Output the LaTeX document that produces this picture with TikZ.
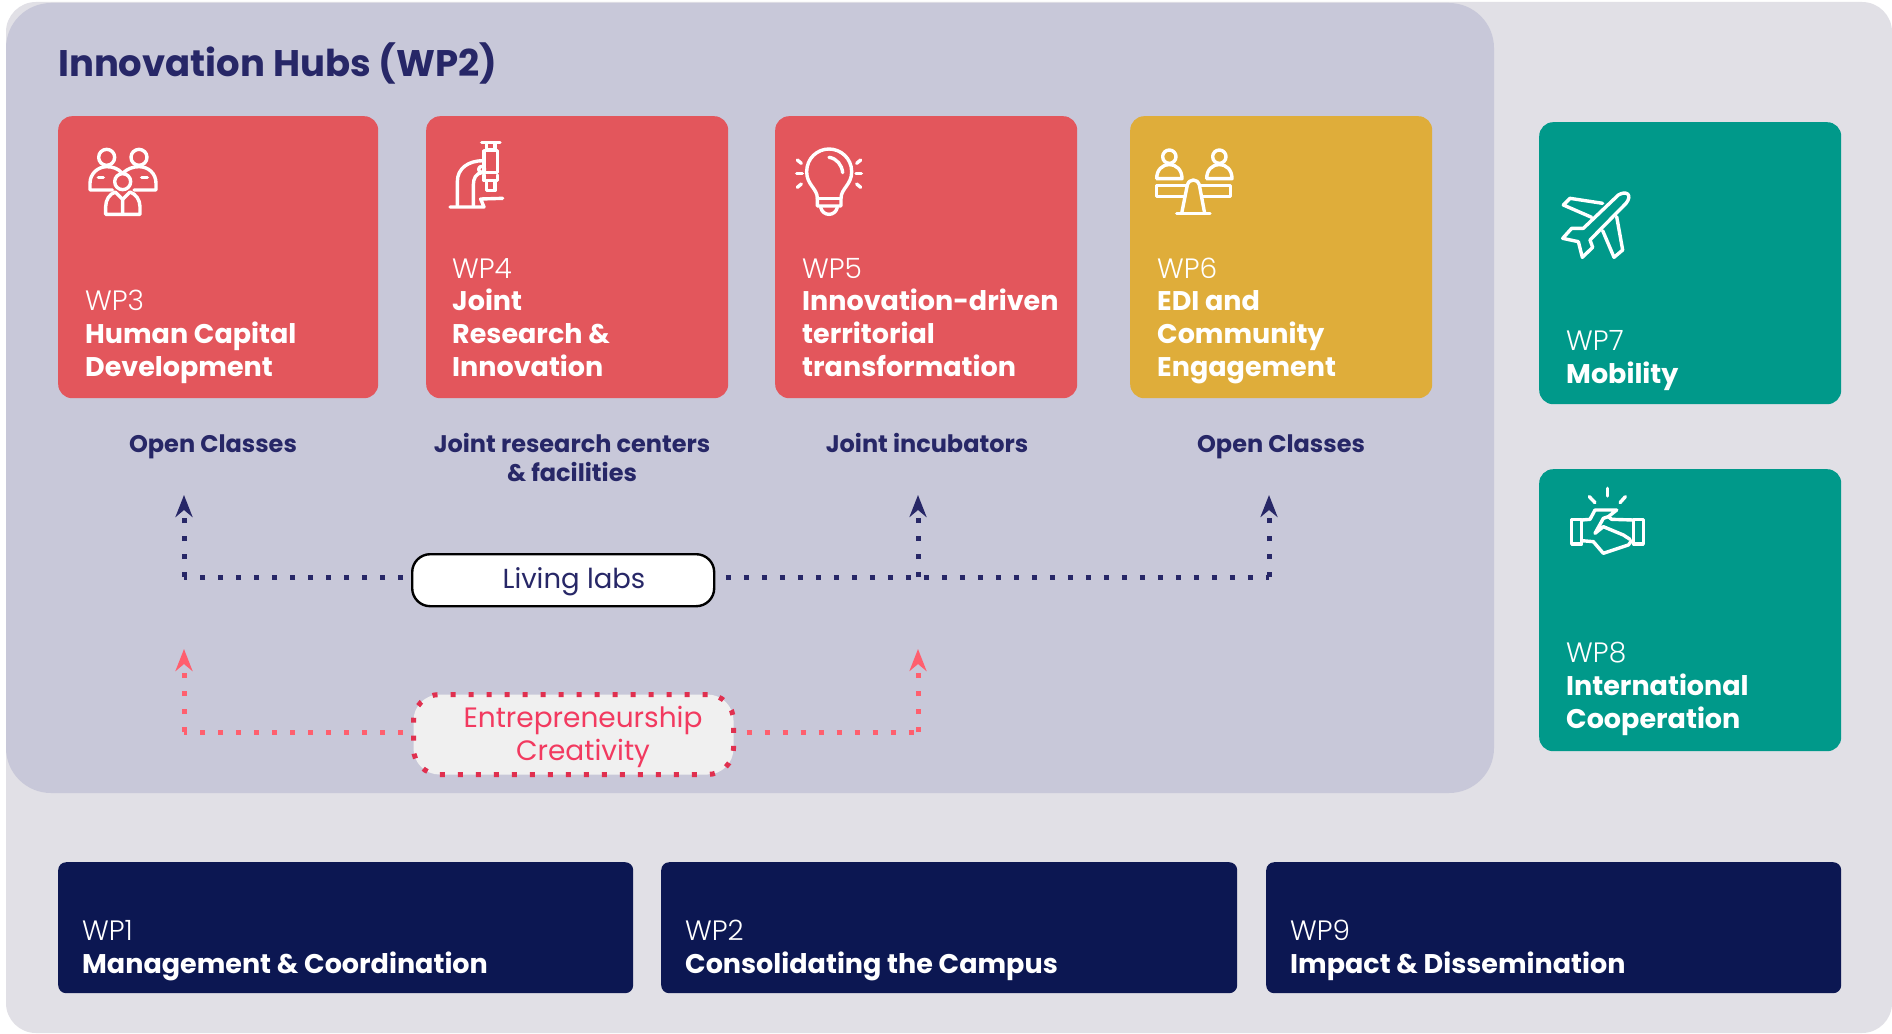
\documentclass[tikz,border=0pt]{standalone}
\usepackage{fontspec}
\setmainfont{Poppins}
\newfontfamily\lightf{Poppins Light}
\usetikzlibrary{arrows.meta}
\definecolor{bgout}{HTML}{E1E0E6}
\definecolor{bghub}{HTML}{C8C8D9}
\definecolor{redcard}{HTML}{E3565C}
\definecolor{goldcard}{HTML}{DFAD3A}
\definecolor{tealcard}{HTML}{00998A}
\definecolor{navycard}{HTML}{0C1752}
\definecolor{inkblue}{HTML}{272767}
\definecolor{lineblue}{HTML}{272767}
\definecolor{linered}{HTML}{FF5F6E}
\definecolor{boxred}{HTML}{E0304F}
\definecolor{textred}{HTML}{F23A60}
\newcommand{\wpl}[1]{{\lightf\fontsize{28}{32.6}\selectfont #1}}
\newcommand{\wpb}[1]{\textbf{#1}}
\tikzset{
  x=1pt,y=-1pt,
  card/.style={anchor=north west,rounded corners=14pt,inner sep=0pt,minimum width=#1},
  cardh/.style={minimum height=#1},
  wptext/.style={anchor=south west,inner sep=0pt,align=left,text=white,font=\fontsize{27}{32.6}\selectfont,execute at end node=\strut},
  sub/.style={inner sep=0pt,anchor=base,align=center,text=inkblue,font=\fontsize{24}{29}\selectfont\bfseries},
  dotline/.style={line width=5pt,dash pattern=on 5pt off 13pt},
  icon/.style={draw=white,line width=3.4pt,line cap=round,line join=round},
  tipup/.style={-{Stealth[length=22pt,width=17pt,inset=7pt]}}
}
\begin{document}
\begin{tikzpicture}
\useasboundingbox (0,0) rectangle (1892,1033);
\fill[white] (0,0) rectangle (1892,1033);
\fill[bgout,rounded corners=30pt] (6,2) rectangle (1892,1033);
\fill[bghub,rounded corners=45pt] (6,3) rectangle (1494,793);
\node[anchor=base west,inner sep=0pt,text=inkblue,font=\fontsize{37}{40}\selectfont\bfseries] (title) at (58,77) {Innovation Hubs (WP2)};
% cards
\node[card=320pt,cardh=282pt,fill=redcard] (wp3) at (58,116) {};
\node[card=302pt,cardh=282pt,fill=redcard] (wp4) at (426,116) {};
\node[card=302pt,cardh=282pt,fill=redcard] (wp5) at (775,116) {};
\node[card=302pt,cardh=282pt,fill=goldcard] (wp6) at (1130,116) {};
\node[card=302pt,cardh=282pt,fill=tealcard] (wp7) at (1539,122) {};
\node[card=302pt,cardh=282pt,fill=tealcard] (wp8) at (1539,469) {};
\node[card=575pt,cardh=131pt,fill=navycard,rounded corners=8pt] (wp1) at (58,862) {};
\node[card=576pt,cardh=131pt,fill=navycard,rounded corners=8pt] (wp2) at (661,862) {};
\node[card=575pt,cardh=131pt,fill=navycard,rounded corners=8pt] (wp9) at (1266,862) {};
\node[wptext] (t3) at (85,386) {\wpl{WP3}\\\wpb{Human Capital}\\\wpb{Development}};
\node[wptext] (t4) at (452,386) {\wpl{WP4}\\\wpb{Joint}\\\wpb{Research \&}\\\wpb{Innovation}};
\node[wptext] (t5) at (802,386) {\wpl{WP5}\\\wpb{Innovation-driven}\\\wpb{territorial}\\\wpb{transformation}};
\node[wptext] (t6) at (1157,386) {\wpl{WP6}\\\wpb{EDI and}\\\wpb{Community}\\\wpb{Engagement}};
\node[wptext] (t7) at (1566,393) {\wpl{WP7}\\\wpb{Mobility}};
\node[wptext] (t8) at (1566,738) {\wpl{WP8}\\\wpb{International}\\\wpb{Cooperation}};
\node[wptext] (t1) at (82,983) {\wpl{WP1}\\\wpb{Management \& Coordination}};
\node[wptext] (t2) at (685,983) {\wpl{WP2}\\\wpb{Consolidating the Campus}};
\node[wptext] (t9) at (1290,983) {\wpl{WP9}\\\wpb{Impact \& Dissemination}};
% subtitles
\node[sub] (s3) at (213,452) {Open Classes};
\node[sub] (s4) at (572,481) {Joint research centers\\\& facilities};
\node[sub] (s5) at (927,452) {Joint incubators};
\node[sub] (s6) at (1281,452) {Open Classes};
% boxes
\node[anchor=north west,minimum width=302pt,minimum height=52pt,inner sep=0pt,rounded corners=18pt,draw=black,line width=2.4pt,fill=white] (living) at (411,553) {};
\node[inner sep=0pt,text=inkblue,font=\fontsize{27.5}{30}\selectfont] (livingt) at (574,582) {Living labs};
\node[anchor=north west,minimum width=320pt,minimum height=80pt,inner sep=0pt,rounded corners=26pt,fill=black!6,draw=boxred,line width=5pt,dash pattern=on 5pt off 13pt] (entre) at (411,692) {};
\node[inner sep=0pt,align=center,text=textred,font=\fontsize{28}{32.6}\selectfont] (entret) at (583,737) {Entrepreneurship\\Creativity};
% connectors
\coordinate (lc1) at (184,577);
\coordinate (lc2) at (918,577);
\coordinate (lc3) at (1269,577);
\coordinate (la1) at (184,495);
\coordinate (la2) at (918,495);
\coordinate (la3) at (1269,495);
\coordinate (rc1) at (184,732);
\coordinate (rc2) at (918,732);
\coordinate (ra1) at (184,649);
\coordinate (ra2) at (918,649);
\draw[lineblue,dotline,dash phase=10pt] (living.west |- lc1) -- (lc1);
\draw[lineblue,dotline,dash phase=7.5pt] (living.east |- lc3) -- (lc3);
\draw[lineblue,dotline,tipup] (lc1) -- (la1);
\draw[lineblue,dotline,tipup] (lc2) -- (la2);
\draw[lineblue,dotline,tipup] (lc3) -- (la3);
\draw[linered,dotline,dash phase=10pt] (entre.west |- rc1) -- (rc1);
\draw[linered,dotline,dash phase=7.5pt] (entre.east |- rc2) -- (rc2);
\draw[linered,dotline,tipup] (rc1) -- (ra1);
\draw[linered,dotline,tipup] (rc2) -- (ra2);
% icon people
\begin{scope}[shift={(40,100)},x=1/3*1pt,y=-1/3*1pt]
\draw[icon] (200,172) circle (24);
\draw[icon] (297,172) circle (24);
\draw[icon] (248,245) circle (24);
\draw[icon] (217,270) -- (150,270) -- (150,250) .. controls (150,220) and (175,200) .. (200,200) .. controls (220,200) and (235,207) .. (245,218);
\draw[icon] (250,218) .. controls (262,207) and (278,200) .. (297,200) .. controls (325,200) and (348,220) .. (348,250) -- (348,270) -- (282,270);
\draw[icon] (175,232) -- (190,232);
\draw[icon] (305,232) -- (322,232);
\draw[icon] (226,276) .. controls (208,282) and (197,300) .. (197,320) -- (197,343) -- (300,343) -- (300,320) .. controls (300,300) and (288,282) .. (270,276);
\draw[icon] (248,343) -- (248,298) -- (226,276);
\draw[icon] (248,298) -- (270,276);
\end{scope}
% icon microscope
\begin{scope}[shift={(440,130)},x=1/3*1pt,y=-1/3*1pt]
\draw[icon] (30,231) -- (132,231) -- (122,207) -- (188,205);
\draw[icon] (52,228) -- (52,155) .. controls (52,115) and (85,92) .. (130,92);
\draw[icon] (100,228) -- (100,165) .. controls (100,145) and (108,130) .. (125,128);
\draw[icon] (125,118) circle (9);
\draw[icon] (125,38) -- (180,38);
\draw[icon] (140,40) -- (140,60) -- (165,60) -- (165,40);
\draw[icon] (132,62) -- (132,128) -- (172,128) -- (172,62) -- cycle;
\draw[icon] (132,135) -- (132,152) -- (172,152) -- (172,135);
\draw[icon] (140,154) -- (140,182) -- (165,182) -- (165,154);
\end{scope}
% icon bulb
\begin{scope}[shift={(760,120)},x=1/3*1pt,y=-1/3*1pt]
\draw[icon] (172,235) .. controls (172,205) and (140,195) .. (140,155) .. controls (140,115) and (172,87) .. (207,87) .. controls (242,87) and (275,115) .. (275,155) .. controls (275,195) and (243,205) .. (243,235) -- (243,258) -- (172,258) -- cycle;
\draw[icon] (172,235) -- (243,235);
\draw[icon] (182,262) .. controls (188,290) and (226,290) .. (232,262);
\draw[icon] (207,112) .. controls (230,115) and (246,135) .. (248,158);
\draw[icon] (112,120) -- (124,130);
\draw[icon] (110,161) -- (127,161);
\draw[icon] (112,202) -- (124,192);
\draw[icon] (302,120) -- (290,130);
\draw[icon] (304,161) -- (288,161);
\draw[icon] (302,202) -- (290,192);
% scales
\draw[icon] (1228,110) circle (20);
\draw[icon] (1378,110) circle (20);
\draw[icon] (1190,176) -- (1266,176) .. controls (1266,150) and (1250,134) .. (1228,134) .. controls (1206,134) and (1190,150) .. (1190,176);
\draw[icon] (1340,176) -- (1416,176) .. controls (1416,150) and (1400,134) .. (1378,134) .. controls (1356,134) and (1340,150) .. (1340,176);
\draw[icon] (1278,196) -- (1190,196) -- (1190,230) -- (1272,230);
\draw[icon] (1320,196) -- (1412,196) -- (1412,230) -- (1328,230);
\draw[icon] (1265,280) -- (1282,195) .. controls (1288,175) and (1312,175) .. (1318,195) -- (1334,280);
\draw[icon] (1250,281) -- (1350,281);
\end{scope}
% icon plane
\begin{scope}[shift={(1520,160)},x=1/3*1pt,y=-1/3*1pt]
\draw[icon] (190,205) -- (155,205) -- (128,235) -- (175,245) -- (187,292) -- (218,262) -- (210,240) -- (318,130) .. controls (338,105) and (320,90) .. (295,105) -- cycle;
\draw[icon] (215,172) -- (130,135) -- (150,115) -- (248,130);
\draw[icon] (248,212) -- (282,292) -- (308,270) -- (290,170);
\end{scope}
% icon handshake
\begin{scope}[shift={(1540,470)},x=1/3*1pt,y=-1/3*1pt]
\draw[icon] (95,148) rectangle (125,222);
\draw[icon] (280,148) rectangle (310,222);
\draw[icon] (125,150) -- (150,148) -- (165,120) -- (230,120) -- (205,140) -- (190,145) -- (165,190) -- (190,170) -- (250,195) -- (270,208);
\draw[icon] (280,150) -- (215,148) -- (205,140);
\draw[icon] (125,212) -- (160,215) -- (190,250) -- (265,225) -- (275,212);
\draw[icon] (148,80) -- (165,98);
\draw[icon] (202,55) -- (202,78);
\draw[icon] (256,80) -- (240,98);
\end{scope}
\end{tikzpicture}
\end{document}
